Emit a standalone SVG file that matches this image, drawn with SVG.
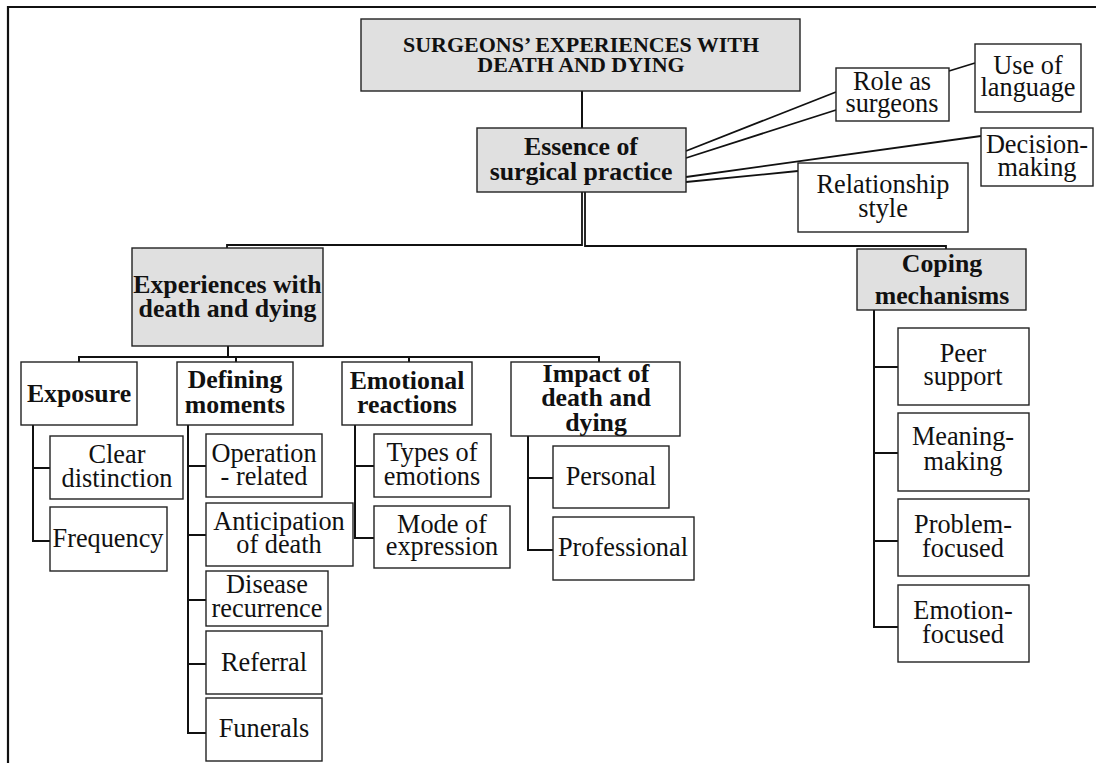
<svg xmlns="http://www.w3.org/2000/svg" width="1096" height="763" viewBox="0 0 1096 763">
<style>
.box{fill:#fff;stroke:#222;stroke-width:1.4}
.gray{fill:#e0e0e0;stroke:#222;stroke-width:1.4}
text{font-family:'Liberation Serif','DejaVu Serif','Times New Roman',serif;fill:#111;text-anchor:middle}
.b{font-weight:bold;font-size:25.8px}
.r{font-size:26.3px}
.t{font-weight:bold;font-size:22px}
.c{fill:none;stroke:#111;stroke-width:2}
.d{fill:none;stroke:#111;stroke-width:1.8}
</style>
<rect width="1096" height="763" fill="#fff"/>
<path d="M8,763 V7 H1096" fill="none" stroke="#111" stroke-width="2.2"/>
<g id="connectors">
<path class="c" d="M582,91 V128"/>
<path class="d" d="M582,192 V245 H227 V248"/>
<path class="d" d="M585,192 V246 H946 V249"/>
<path class="d" d="M686,151 L836,92"/>
<path class="d" d="M686,158 L836,110"/>
<path class="d" d="M686,177 L981,136"/>
<path class="d" d="M686,182 L798,171"/>
<path class="d" d="M949,71 L975,63"/>
<path class="c" d="M228,346 V357"/>
<path class="c" d="M79,362 V357 H599 V362"/>
<path class="c" d="M236,357 V362"/>
<path class="c" d="M409,357 V362"/>
<path class="c" d="M33,425 V541 H50"/>
<path class="c" d="M33,468 H50"/>
<path class="c" d="M188,425 V733 H206"/>
<path class="c" d="M188,466 H206"/>
<path class="c" d="M188,535 H206"/>
<path class="c" d="M188,600 H206"/>
<path class="c" d="M188,664 H206"/>
<path class="c" d="M355,425 V538 H374"/>
<path class="c" d="M355,466 H374"/>
<path class="c" d="M528,436 V550 H553"/>
<path class="c" d="M528,478 H553"/>
<path class="c" d="M874,310 V627 H898"/>
<path class="c" d="M874,367 H898"/>
<path class="c" d="M874,453 H898"/>
<path class="c" d="M874,541 H898"/>
</g>
<g font-family="Liberation Serif, DejaVu Serif, serif">
<g id="root"><rect class="gray" x="361" y="19" width="439" height="72"/><text class="t" x="581" y="52">SURGEONS’ EXPERIENCES WITH</text><text class="t" x="581" y="72">DEATH AND DYING</text></g>
<g id="essence"><rect class="gray" x="477" y="128" width="209" height="64"/><text class="b" x="581" y="155">Essence of</text><text class="b" x="581" y="180">surgical practice</text></g>
<g id="role"><rect class="box" x="836" y="68" width="113" height="53"/><text class="r" x="892" y="90">Role as</text><text class="r" x="892" y="112">surgeons</text></g>
<g id="language"><rect class="box" x="975" y="44" width="106" height="68"/><text class="r" x="1028" y="74">Use of</text><text class="r" x="1028" y="96">language</text></g>
<g id="decision"><rect class="box" x="981" y="128" width="112" height="58"/><text class="r" x="1037" y="153">Decision-</text><text class="r" x="1037" y="176">making</text></g>
<g id="relationship"><rect class="box" x="798" y="163" width="170" height="69"/><text class="r" x="883" y="193">Relationship</text><text class="r" x="883" y="217">style</text></g>
<g id="experiences"><rect class="gray" x="132" y="248" width="191" height="98"/><text class="b" x="227.5" y="293">Experiences with</text><text class="b" x="227.5" y="317">death and dying</text></g>
<g id="coping"><rect class="gray" x="857" y="249" width="169" height="61"/><text class="b" x="942" y="272">Coping</text><text class="b" x="942" y="304">mechanisms</text></g>
<g id="exposure"><rect class="box" x="21" y="362" width="116" height="63"/><text class="b" x="79" y="402">Exposure</text></g>
<g id="defining"><rect class="box" x="177" y="362" width="116" height="63"/><text class="b" x="235" y="388">Defining</text><text class="b" x="235" y="413">moments</text></g>
<g id="emotional"><rect class="box" x="342" y="362" width="130" height="63"/><text class="b" x="407" y="389">Emotional</text><text class="b" x="407" y="413">reactions</text></g>
<g id="impact"><rect class="box" x="511" y="362" width="169" height="74"/><text class="b" x="596" y="382">Impact of</text><text class="b" x="596" y="406">death and</text><text class="b" x="596" y="431">dying</text></g>
<g id="clear"><rect class="box" x="50" y="436" width="133" height="63"/><text class="r" x="117" y="463">Clear</text><text class="r" x="117" y="487">distinction</text></g>
<g id="frequency"><rect class="box" x="50" y="507" width="117" height="64"/><text class="r" x="108" y="547">Frequency</text></g>
<g id="operation"><rect class="box" x="206" y="434" width="116" height="63"/><text class="r" x="264" y="462">Operation</text><text class="r" x="264" y="485">- related</text></g>
<g id="anticipation"><rect class="box" x="206" y="503" width="147" height="63"/><text class="r" x="279" y="530">Anticipation</text><text class="r" x="279" y="553">of death</text></g>
<g id="disease"><rect class="box" x="206" y="571" width="122" height="55"/><text class="r" x="267" y="593">Disease</text><text class="r" x="267" y="617">recurrence</text></g>
<g id="referral"><rect class="box" x="206" y="631" width="116" height="63"/><text class="r" x="264" y="671">Referral</text></g>
<g id="funerals"><rect class="box" x="206" y="698" width="116" height="63"/><text class="r" x="264" y="737">Funerals</text></g>
<g id="types"><rect class="box" x="374" y="434" width="117" height="63"/><text class="r" x="432" y="461">Types of</text><text class="r" x="432" y="485">emotions</text></g>
<g id="mode"><rect class="box" x="374" y="506" width="136" height="62"/><text class="r" x="442" y="533">Mode of</text><text class="r" x="442" y="555">expression</text></g>
<g id="personal"><rect class="box" x="553" y="446" width="116" height="62"/><text class="r" x="611" y="485">Personal</text></g>
<g id="professional"><rect class="box" x="553" y="517" width="141" height="63"/><text class="r" x="623" y="556">Professional</text></g>
<g id="peer"><rect class="box" x="898" y="328" width="131" height="77"/><text class="r" x="963" y="362">Peer</text><text class="r" x="963" y="385">support</text></g>
<g id="meaning"><rect class="box" x="898" y="413" width="131" height="78"/><text class="r" x="963" y="445">Meaning-</text><text class="r" x="963" y="470">making</text></g>
<g id="problem"><rect class="box" x="898" y="499" width="131" height="77"/><text class="r" x="963" y="533">Problem-</text><text class="r" x="963" y="557">focused</text></g>
<g id="emotion"><rect class="box" x="898" y="585" width="131" height="77"/><text class="r" x="963" y="619">Emotion-</text><text class="r" x="963" y="643">focused</text></g>
</g>
</svg>
